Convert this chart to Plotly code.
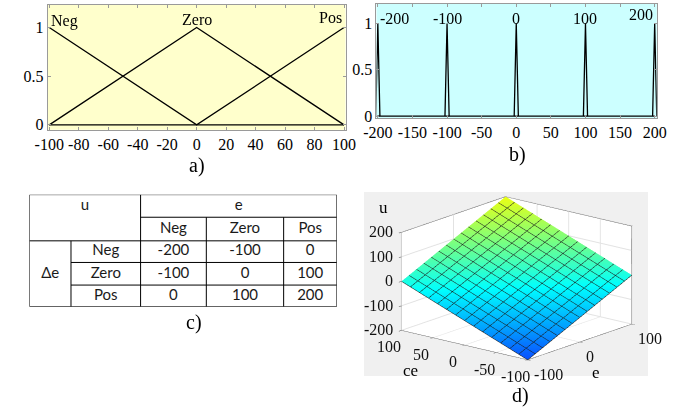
import numpy as np
import plotly.graph_objects as go

# ---------------- data ----------------
mf_names = ["Neg", "Zero", "Pos"]
mf_params = [[-200, -100, 0], [-100, 0, 100], [0, 100, 200]]   # trimf a, b, c
e_range = [-100, 100]
x_ticks_a = list(range(-100, 101, 20))
y_ticks = [0, 0.5, 1]

out_names = ["-200", "-100", "0", "100", "200"]
out_values = [-200, -100, 0, 100, 200]
x_ticks_b = list(range(-200, 201, 50))

rule_header = "u"
col_title = "e"
row_title = "Δe"
rule_cols = ["Neg", "Zero", "Pos"]     # e
rule_rows = ["Neg", "Zero", "Pos"]     # Δe
rule_table = [[-200, -100, 0],
              [-100, 0, 100],
              [0, 100, 200]]

grid_points = 15
u_range = [-200, 200]
z_ticks = [-200, -100, 0, 100, 200]
ce_ticks = [-100, -50, 0, 50, 100]
e_ticks = [-100, 0, 100]

# ---------------- helpers ----------------
W, H = 689, 412
def px(x): return x / W
def py(y): return 1 - y / H

def trimf(x, p):
    a, b, c = p
    x = np.asarray(x, dtype=float)
    return np.maximum(np.minimum((x - a) / (b - a), (c - x) / (c - b)), 0)

def fmt(v):
    return ("%g" % v)

SERIF = "Liberation Serif"
SANS = "Lato"

fig = go.Figure()

# ---------------- panel a: input membership functions ----------------
verts = sorted({v for p in mf_params for v in p if e_range[0] <= v <= e_range[1]})
for name, p in zip(mf_names, mf_params):
    fig.add_trace(go.Scatter(x=verts, y=trimf(verts, p), mode="lines",
                             line=dict(color="black", width=1.3),
                             xaxis="x", yaxis="y", showlegend=False, hoverinfo="skip"))

# ---------------- panel b: output singletons ----------------
spike_w = 3
for v in out_values:
    xs = [v - spike_w, v, v + spike_w]
    fig.add_trace(go.Scatter(x=xs, y=[0, 1, 0], mode="lines",
                             line=dict(color="black", width=1.3),
                             xaxis="x2", yaxis="y2", showlegend=False, hoverinfo="skip"))
fig.add_trace(go.Scatter(x=[out_values[0], out_values[-1]], y=[0, 0], mode="lines",
                         line=dict(color="black", width=1.3),
                         xaxis="x2", yaxis="y2", showlegend=False, hoverinfo="skip"))

# ---------------- panel c: rule table ----------------
col_edges = [0, 43, 115, 183, 263, 318]
row_edges = [0, 23, 47, 69, 92, 114]
shapes = []
def tline(x0, y0, x1, y1):
    shapes.append(dict(type="line", xref="x3", yref="y3", x0=x0, y0=y0, x1=x1, y1=y1,
                       line=dict(color="black", width=1)))
C, R = col_edges, row_edges
tline(C[0], R[0], C[5], R[0]); tline(C[0], R[5], C[5], R[5])
tline(C[0], R[0], C[0], R[5]); tline(C[5], R[0], C[5], R[5])
tline(C[2], R[0], C[2], R[5])
tline(C[1], R[2], C[1], R[5])
tline(C[3], R[1], C[3], R[5]); tline(C[4], R[1], C[4], R[5])
tline(C[2], R[1], C[5], R[1])
tline(C[0], R[2], C[5], R[2])
tline(C[1], R[3], C[5], R[3]); tline(C[1], R[4], C[5], R[4])

tx, ty, tt = [], [], []
tx.append((C[0] + C[2]) / 2); ty.append(12); tt.append(rule_header)
tx.append((C[2] + C[5]) / 2); ty.append((R[0] + R[1]) / 2); tt.append(col_title)
tx.append((C[0] + C[1]) / 2); ty.append((R[2] + R[5]) / 2); tt.append(row_title)
for j, n in enumerate(rule_cols):
    tx.append((C[2 + j] + C[3 + j]) / 2); ty.append((R[1] + R[2]) / 2); tt.append(n)
for i, n in enumerate(rule_rows):
    tx.append((C[1] + C[2]) / 2); ty.append((R[2 + i] + R[3 + i]) / 2); tt.append(n)
    for j in range(3):
        tx.append((C[2 + j] + C[3 + j]) / 2); ty.append((R[2 + i] + R[3 + i]) / 2)
        tt.append(str(rule_table[i][j]))
fig.add_trace(go.Scatter(x=tx, y=ty, text=tt, mode="text",
                         textfont=dict(family=SANS, size=15, color="#1a1a1a"),
                         xaxis="x3", yaxis="y3", showlegend=False, hoverinfo="skip"))

# ---------------- panel d: control surface (fuzzy inference from the rule table) ----------------
e_g = np.linspace(e_range[0], e_range[1], grid_points)
ce_g = np.linspace(e_range[0], e_range[1], grid_points)
mu_e = np.array([trimf(e_g, p) for p in mf_params])      # (3, n)
mu_c = np.array([trimf(ce_g, p) for p in mf_params])     # (3, n)
tab = np.array(rule_table, dtype=float)                  # [ce, e]
num = np.einsum("jn,im,ji->nm", mu_c, mu_e, tab)
den = np.einsum("jn,im->nm", mu_c, mu_e)
U = num / den                                            # rows ce, cols e

step = (e_range[1] - e_range[0]) / (grid_points - 1)
cscale = [[0.0, "rgb(10,80,255)"], [0.22, "rgb(0,170,255)"], [0.44, "rgb(0,255,255)"],
          [0.72, "rgb(120,255,130)"], [1.0, "rgb(235,255,20)"]]
fig.add_trace(go.Surface(x=e_g, y=ce_g, z=U, colorscale=cscale, cmin=u_range[0], cmax=u_range[1],
                         showscale=False, hoverinfo="skip",
                         lighting=dict(ambient=1, diffuse=0, specular=0, fresnel=0),
                         contours=dict(
                             x=dict(show=True, start=e_range[0], end=e_range[1], size=step,
                                    color="#1a1a1a", width=1),
                             y=dict(show=True, start=e_range[0], end=e_range[1], size=step,
                                    color="#1a1a1a", width=1)),
                         scene="scene"))
# back box edges (MATLAB style)
e0, e1 = e_range
z0, z1 = u_range
fig.add_trace(go.Scatter3d(x=[e0, e1, e1, e1], y=[e1, e1, e0, e0], z=[z1, z1, z1, z0],
                           mode="lines", line=dict(color="#555", width=1.5),
                           showlegend=False, hoverinfo="skip", scene="scene"))

# ---------------- layout ----------------
tickfont = dict(family=SERIF, size=16, color="black")
ax_common = dict(showgrid=False, zeroline=False, showline=True, linecolor="#9a9a9a",
                 mirror="ticks", ticks="inside", ticklen=3, tickcolor="#9a9a9a",
                 tickfont=tickfont, fixedrange=True)

shapes.append(dict(type="rect", xref="x domain", yref="y domain", x0=0, x1=1, y0=0, y1=1,
                   fillcolor="#ffffcc", line=dict(width=0), layer="below"))
shapes.append(dict(type="rect", xref="x2 domain", yref="y2 domain", x0=0, x1=1, y0=0, y1=1,
                   fillcolor="#ccffff", line=dict(width=0), layer="below"))

ann = []
def lab(x, y, t, xa="x", ya="y", xanchor="center", size=16, family=SERIF):
    ann.append(dict(x=x, y=y, xref=xa, yref=ya, text=t, showarrow=False,
                    xanchor=xanchor, yanchor="middle",
                    font=dict(family=family, size=size, color="black")))
# MF labels panel a
lab(mf_params[0][1], 1.07, mf_names[0], xanchor="left")
lab(mf_params[1][1], 1.08, mf_names[1], xanchor="center")
lab(mf_params[2][1], 1.10, mf_names[2], xanchor="right")
# singleton labels panel b
for k, (v, n) in enumerate(zip(out_values, out_names)):
    xa = "left" if k == 0 else ("right" if k == len(out_values) - 1 else "center")
    lab(v, 1.10 if k == len(out_values) - 1 else 1.06, n, xa="x2", ya="y2", xanchor=xa)
# panel letters
for t, x, y in [("a)", 190, 168), ("b)", 522, 157), ("c)", 187, 328), ("d)", 525, 402)]:
    lab(px(x), py(y), t, xa="paper", ya="paper", size=20)
# 3D axis titles
for t, x, y in [("u", 383, 211), ("ce", 411, 377), ("e", 603, 379)]:
    lab(px(x), py(y), t, xa="paper", ya="paper", size=17)

# 3D tick labels as scene annotations (placed through the scene projection)
sfont = dict(family=SERIF, size=16, color="#111")
sann = []
for v in z_ticks:
    sann.append(dict(x=e0, y=e1, z=v, text=fmt(v), showarrow=False, xanchor="right",
                     yanchor="middle", xshift=-6, font=sfont))
for v in ce_ticks:
    sann.append(dict(x=e0, y=v, z=z0, text=fmt(v), showarrow=False, xanchor="center",
                     yanchor="middle", xshift=-12, yshift=-17, font=sfont))
for v in e_ticks:
    sann.append(dict(x=v, y=e0, z=z0, text=fmt(v), showarrow=False, xanchor="left",
                     yanchor="middle", xshift=4, yshift=-15, font=sfont))

# camera (MATLAB-like view)
phi, theta = np.arctan2(-0.636, -0.771), np.arcsin(0.283)
d = np.array([np.cos(phi) * np.cos(theta), np.sin(phi) * np.cos(theta), np.sin(theta)])
k = 1.5
cen = np.array([-0.084, 0.081, -0.062])
eye = d * k + cen
zoom = 1.78

ax3d = dict(showbackground=True, backgroundcolor="white", gridcolor="#e2e2e2",
            showline=True, linecolor="#444", zeroline=False, showspikes=False,
            ticks="outside", ticklen=4, tickcolor="#444", showticklabels=False,
            title=dict(text=""))

fig.update_layout(
    width=W, height=H, margin=dict(l=0, r=0, t=0, b=0),
    paper_bgcolor="white", plot_bgcolor="rgba(0,0,0,0)",
    xaxis=dict(domain=[px(36), px(344)], range=[-101, 101], tickvals=x_ticks_a,
               ticktext=[fmt(v) for v in x_ticks_a], anchor="y", **ax_common),
    yaxis=dict(domain=[py(132), py(5)], range=[-0.05, 1.232], tickvals=y_ticks,
               ticktext=[fmt(v) for v in y_ticks], anchor="x", **ax_common),
    xaxis2=dict(domain=[px(376), px(666)], range=[-202, 203], tickvals=x_ticks_b,
                ticktext=[fmt(v) for v in x_ticks_b], anchor="y2", **ax_common),
    yaxis2=dict(domain=[py(120), py(4)], range=[-0.02, 1.213], tickvals=y_ticks,
                ticktext=[fmt(v) for v in y_ticks], anchor="x2", **ax_common),
    xaxis3=dict(domain=[px(17), px(335)], range=[C[0], C[-1]], visible=False,
                anchor="y3", fixedrange=True),
    yaxis3=dict(domain=[py(312), py(198)], range=[R[-1], R[0]], visible=False,
                anchor="x3", fixedrange=True),
    scene=dict(domain=dict(x=[px(363), px(657)], y=[py(382), py(195)]),
               bgcolor="#f0f0f0",
               xaxis=dict(range=e_range, tickvals=e_ticks, **ax3d),
               yaxis=dict(range=e_range, tickvals=ce_ticks, **ax3d),
               zaxis=dict(range=u_range, tickvals=z_ticks, **ax3d),
               aspectmode="manual",
               aspectratio=dict(x=1 * zoom, y=1 * zoom, z=0.625 * zoom),
               annotations=sann,
               camera=dict(projection=dict(type="orthographic"),
                           eye=dict(x=eye[0], y=eye[1], z=eye[2]),
                           center=dict(x=cen[0], y=cen[1], z=cen[2]), up=dict(x=0, y=0, z=1))),
    shapes=shapes, annotations=ann,
)

fig.write_html("out.html")
